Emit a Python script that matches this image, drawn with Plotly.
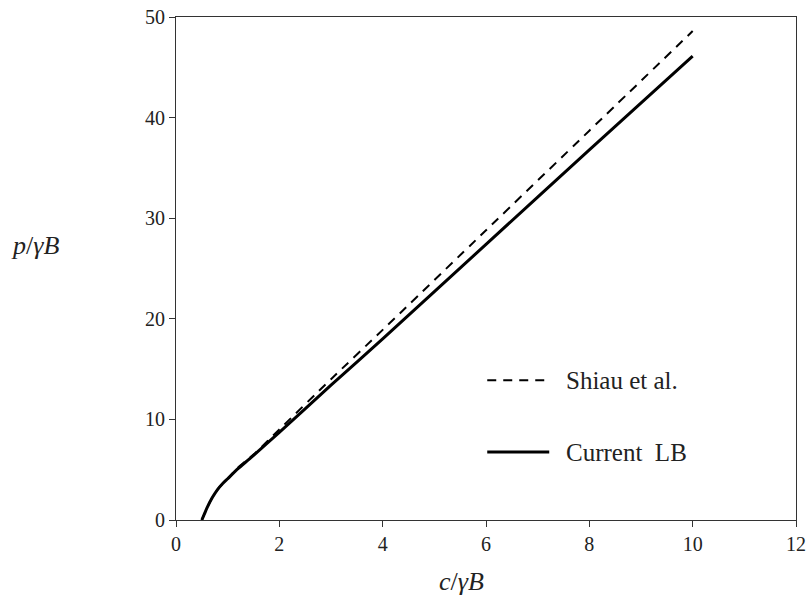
import plotly.graph_objects as go

# Data
c_current = [0.5, 0.55, 0.6, 0.7, 0.8, 0.9, 1.0, 1.2, 1.45, 2.0, 3.0, 4.0, 6.0, 8.0, 10.0]
p_current = [0.0, 0.6, 1.2, 2.2, 3.0, 3.6, 4.1, 5.1, 6.2, 8.7, 13.4, 18.0, 27.4, 36.8, 46.1]

c_shiau = [0.5, 0.55, 0.6, 0.7, 0.8, 0.9, 1.0, 1.2, 1.5, 2.0, 3.0, 4.0, 6.0, 8.0, 10.0]
p_shiau = [0.0, 0.6, 1.2, 2.2, 3.0, 3.6, 4.1, 5.2, 6.5, 9.0, 14.0, 18.9, 28.8, 38.7, 48.6]

x_ticks = [0, 2, 4, 6, 8, 10, 12]
y_ticks = [0, 10, 20, 30, 40, 50]

legend_names = ["Shiau et al.", "Current  LB"]

FONT = "Liberation Serif, Times New Roman, serif"
DASH = "9px,7px"

fig = go.Figure()
fig.add_trace(go.Scatter(
    x=c_shiau, y=p_shiau, mode="lines", name=legend_names[0],
    line=dict(color="black", width=2, dash=DASH, shape="spline", smoothing=0.6),
    showlegend=False,
))
fig.add_trace(go.Scatter(
    x=c_current, y=p_current, mode="lines", name=legend_names[1],
    line=dict(color="black", width=3, shape="spline", smoothing=0.6),
    showlegend=False,
))

axis_common = dict(
    showgrid=False, zeroline=False, showline=True, linecolor="#333333", linewidth=1,
    mirror=True, ticks="outside", ticklen=6, tickcolor="#333333", automargin=False,
    tickfont=dict(family=FONT, size=20, color="#222222"),
)

# Legend keys drawn in paper space (decoration, not data)
leg_y = [0.278, 0.135]
shapes = [
    dict(type="line", xref="paper", yref="paper", x0=0.502, x1=0.597,
         y0=leg_y[0], y1=leg_y[0], line=dict(color="black", width=2, dash=DASH)),
    dict(type="line", xref="paper", yref="paper", x0=0.502, x1=0.602,
         y0=leg_y[1], y1=leg_y[1], line=dict(color="black", width=3)),
]
annotations = [
    dict(text=legend_names[i], xref="paper", yref="paper", x=0.625, y=leg_y[i],
         xanchor="left", yanchor="middle", showarrow=False,
         font=dict(family=FONT, size=25, color="#222222"))
    for i in range(2)
]
annotations += [
    dict(text="<i>p</i>/<i>γB</i>", xref="paper", yref="paper",
         x=-0.227, y=0.545, showarrow=False, xanchor="center", yanchor="middle",
         font=dict(family=FONT, size=26, color="#222222")),
    dict(text="<i>c</i>/<i>γB</i>", xref="paper", yref="paper",
         x=0.461, y=-0.123, showarrow=False, xanchor="center", yanchor="middle",
         font=dict(family=FONT, size=26, color="#222222")),
]

fig.update_layout(
    width=809, height=600,
    margin=dict(l=176, r=13, t=17, b=80),
    paper_bgcolor="white", plot_bgcolor="white",
    font=dict(family=FONT, color="#222222"),
    xaxis=dict(range=[0, 12], tickvals=x_ticks, **axis_common),
    yaxis=dict(range=[0, 50], tickvals=y_ticks, **axis_common),
    shapes=shapes,
    annotations=annotations,
)

fig.write_html("out.html", config={"displayModeBar": False},
               post_script="document.body.style.margin='0px';document.body.style.overflow='hidden';")
